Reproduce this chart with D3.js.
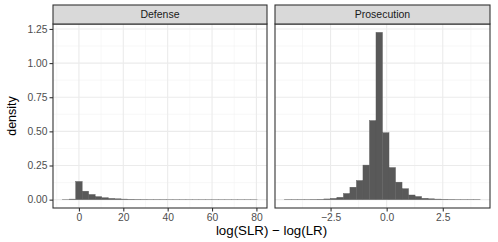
<!DOCTYPE html>
<html>
<head>
<meta charset="utf-8">
<script src="https://cdn.jsdelivr.net/npm/d3@7"></script>
<style>
  body { margin: 0; background: #fff; }
  text { font-family: "Liberation Sans", Arial, sans-serif; }
</style>
</head>
<body>
<script>
const width = 498;
const height = 242;

// panel names
const panels = ["Defense", "Prosecution"];

// histogram bins: first edge, bin width, density per bin (30 bins each)
const defenseStart = -7.3;
const defenseWidth = 2.923;
const defenseDensity = [0.0005, 0.004, 0.133, 0.062, 0.038, 0.022, 0.014, 0.009, 0.006, 0.004,
    0.003, 0.002, 0.0015, 0.001, 0.001, 0.0008, 0.0006, 0.0005, 0.0004, 0.0003,
    0.0003, 0.0002, 0.0002, 0.0002, 0.0001, 0.0001, 0.0001, 0.0001, 0.0001, 0.0001];

const prosecutionStart = -4.54;
const prosecutionWidth = 0.2903;
const prosecutionDensity = [0.001, 0.001, 0.001, 0.001, 0.002, 0.003, 0.005, 0.009, 0.017, 0.045,
    0.091, 0.140, 0.253, 0.579, 1.225, 0.490, 0.235, 0.128, 0.080, 0.034,
    0.023, 0.010, 0.006, 0.004, 0.003, 0.002, 0.001, 0.001, 0.001, 0.001];

// tick labels
const defenseTicks = [0, 20, 40, 60, 80];
const defenseMinor = [-10, 10, 30, 50, 70];
const prosecutionTicks = [-2.5, 0, 2.5];
const prosecutionMinor = [-3.75, -1.25, 1.25, 3.75];
const yTicks = [0, 0.25, 0.5, 0.75, 1, 1.25];
const yMinor = [0.125, 0.375, 0.625, 0.875, 1.125];

const panelTop = 24, panelBottom = 208, stripTop = 5;
const panelX = [[53, 267], [275, 490]];

const svg = d3.select('body')
    .append('svg')
    .attr('width', width)
    .attr('height', height);

// shared y scale with 5% expansion
const yMax = d3.max(defenseDensity.concat(prosecutionDensity));
const y = d3.scaleLinear()
    .domain([-0.05 * yMax, 1.05 * yMax])
    .range([panelBottom, panelTop]);

const setups = [
    { name: panels[0], start: defenseStart, bw: defenseWidth, dens: defenseDensity, ticks: defenseTicks, minor: defenseMinor, fmt: d3.format('d') },
    { name: panels[1], start: prosecutionStart, bw: prosecutionWidth, dens: prosecutionDensity, ticks: prosecutionTicks, minor: prosecutionMinor, fmt: d => d3.format('.1f')(d).replace('-', '\u2212') }
];

setups.forEach((p, i) => {
    const [x0, x1] = panelX[i];
    const lo = p.start, hi = p.start + p.bw * p.dens.length;
    const pad = 0.05 * (hi - lo);
    const x = d3.scaleLinear().domain([lo - pad, hi + pad]).range([x0, x1]);

    const g = svg.append('g');

    g.append('rect')
        .attr('x', x0).attr('y', panelTop)
        .attr('width', x1 - x0).attr('height', panelBottom - panelTop)
        .attr('fill', '#fff');

    // minor grid
    g.selectAll('.vminor').data(p.minor).enter().append('line')
        .attr('x1', d => x(d)).attr('x2', d => x(d))
        .attr('y1', panelTop).attr('y2', panelBottom)
        .attr('stroke', '#f2f2f2').attr('stroke-width', 0.6);
    g.selectAll('.hminor').data(yMinor).enter().append('line')
        .attr('x1', x0).attr('x2', x1)
        .attr('y1', d => y(d)).attr('y2', d => y(d))
        .attr('stroke', '#f2f2f2').attr('stroke-width', 0.6);

    // major grid
    g.selectAll('.vmajor').data(p.ticks).enter().append('line')
        .attr('x1', d => x(d)).attr('x2', d => x(d))
        .attr('y1', panelTop).attr('y2', panelBottom)
        .attr('stroke', '#ebebeb').attr('stroke-width', 1.1);
    g.selectAll('.hmajor').data(yTicks).enter().append('line')
        .attr('x1', x0).attr('x2', x1)
        .attr('y1', d => y(d)).attr('y2', d => y(d))
        .attr('stroke', '#ebebeb').attr('stroke-width', 1.1);

    // bars (thin same-colour stroke closes antialiasing gaps)
    g.selectAll('.bar').data(p.dens).enter().append('rect')
        .attr('x', (d, k) => x(p.start + k * p.bw))
        .attr('width', (d, k) => x(p.start + (k + 1) * p.bw) - x(p.start + k * p.bw))
        .attr('y', d => y(d))
        .attr('height', d => y(0) - y(d))
        .attr('fill', '#595959')
        .attr('stroke', '#595959')
        .attr('stroke-width', 0.4);

    // panel border
    g.append('rect')
        .attr('x', x0).attr('y', panelTop)
        .attr('width', x1 - x0).attr('height', panelBottom - panelTop)
        .attr('fill', 'none').attr('stroke', '#333333').attr('stroke-width', 1.1);

    // strip
    g.append('rect')
        .attr('x', x0).attr('y', stripTop)
        .attr('width', x1 - x0).attr('height', panelTop - stripTop)
        .attr('fill', '#d9d9d9').attr('stroke', '#333333').attr('stroke-width', 1.1);
    g.append('text')
        .attr('x', (x0 + x1) / 2).attr('y', (stripTop + panelTop) / 2)
        .attr('dy', '0.35em')
        .attr('text-anchor', 'middle')
        .attr('font-size', 10.5)
        .attr('fill', '#1a1a1a')
        .text(p.name);

    // x axis
    const xAxis = d3.axisBottom(x).tickValues(p.ticks).tickSize(3.5).tickPadding(2).tickFormat(p.fmt);
    const ax = g.append('g').attr('transform', `translate(0,${panelBottom})`).call(xAxis);
    ax.select('.domain').remove();
    ax.selectAll('line').attr('stroke', '#333333').attr('stroke-width', 1.1);
    ax.selectAll('text').attr('fill', '#4d4d4d').attr('font-size', 10.3)
        .attr('font-family', '"Liberation Sans", Arial, sans-serif');

    // y axis on first panel only
    if (i === 0) {
        const yAxis = d3.axisLeft(y).tickValues(yTicks).tickSize(3.5).tickPadding(2).tickFormat(d3.format('.2f'));
        const ay = g.append('g').attr('transform', `translate(${x0},0)`).call(yAxis);
        ay.select('.domain').remove();
        ay.selectAll('line').attr('stroke', '#333333').attr('stroke-width', 1.1);
        ay.selectAll('text').attr('fill', '#4d4d4d').attr('font-size', 10.3)
            .attr('font-family', '"Liberation Sans", Arial, sans-serif');
    }
});

// axis titles
svg.append('text')
    .attr('x', (panelX[0][0] + panelX[1][1]) / 2)
    .attr('y', 235)
    .attr('text-anchor', 'middle')
    .attr('font-size', 13.3)
    .text('log(SLR) \u2212 log(LR)');

svg.append('text')
    .attr('transform', `translate(16,${(panelTop + panelBottom) / 2}) rotate(-90)`)
    .attr('text-anchor', 'middle')
    .attr('font-size', 12.5)
    .text('density');
</script>
</body>
</html>
